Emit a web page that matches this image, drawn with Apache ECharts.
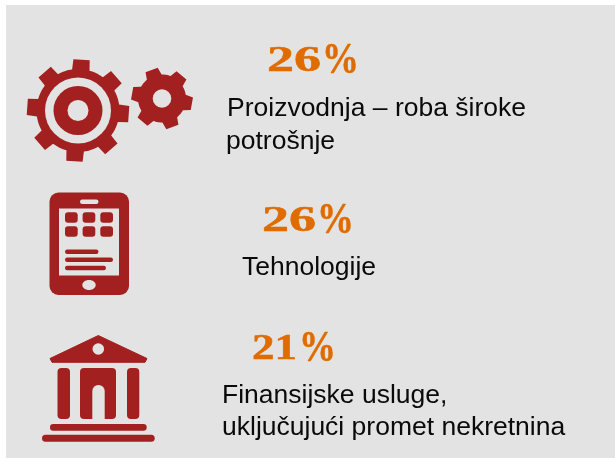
<!DOCTYPE html>
<html>
<head>
<meta charset="utf-8">
<style>
  html, body { margin: 0; padding: 0; background: #fff; }
  #chart { width: 615px; height: 458px; }
</style>
<script src="https://cdn.jsdelivr.net/npm/echarts@6/dist/echarts.min.js"></script>
</head>
<body>
<div id="chart"></div>
<script>
// udjeli po sektorima
const shares = [26, 26, 21];
const labels = [
  ['Proizvodnja – roba široke', 'potrošnje'],
  ['Tehnologije'],
  ['Finansijske usluge,', 'uključujući promet nekretnina']
];

const RED = '#a32020';
const ORANGE = '#e06c00';
const BG = '#e3e3e3';

// pozicije teksta po redovima (x, donja ivica reda)
const shareAnchors = [[267, 80], [262, 240], [252, 368]];
const shareScale = [1.5, 1.5, 1.25];
const pctOffset = [55, 55, 47];
const labelAnchors = [
  [[227, 122.5], [226, 155]],
  [[242, 281.5]],
  [[222, 409], [222, 441.5]]
];

// obris zupcanika kao poligon
function gearPoints(cx, cy, body, outer, teeth, baseHalf, tipHalf, startDeg) {
  const halfIn = baseHalf / body;
  const halfOut = tipHalf / outer;
  const pt = (r, a) => [cx + r * Math.cos(a), cy + r * Math.sin(a)];
  const pts = [];
  for (let i = 0; i < teeth; i++) {
    const a = (startDeg + i * 360 / teeth) * Math.PI / 180;
    pts.push(pt(body, a - halfIn), pt(outer, a - halfOut), pt(outer, a + halfOut), pt(body, a + halfIn));
    const gapStart = a + halfIn;
    const gapEnd = a + 2 * Math.PI / teeth - halfIn;
    for (let k = 1; k < 8; k++) pts.push(pt(body, gapStart + (gapEnd - gapStart) * k / 8));
  }
  return pts;
}

const circle = (cx, cy, r, fill) => ({ type: 'circle', shape: { cx, cy, r }, style: { fill } });
const box = (x1, y1, x2, y2, r, fill) => ({
  type: 'rect',
  shape: { x: x1, y: y1, width: x2 - x1, height: y2 - y1, r },
  style: { fill }
});

function gearIcons() {
  return [
    { type: 'polygon', shape: { points: gearPoints(78, 110.5, 41.5, 51.5, 8, 8.8, 8.2, 4) }, style: { fill: RED } },
    circle(78, 110.5, 33, BG),
    circle(78, 110.5, 24.5, RED),
    circle(78, 110.5, 10.5, BG),
    { type: 'polygon', shape: { points: gearPoints(162, 98.5, 24, 31, 6, 8, 6.5, 10) }, style: { fill: RED } },
    circle(162, 98.5, 9.3, BG)
  ];
}

function tabletIcon() {
  const parts = [
    box(49.5, 192.5, 129, 295, 9, RED),
    box(59, 208.5, 119, 275.5, 0, BG),
    box(80, 199.5, 98.5, 204, 2.2, BG),
    { type: 'ellipse', shape: { cx: 89, cy: 285, rx: 6.7, ry: 5 }, style: { fill: BG } },
    box(65, 249.5, 98.5, 254, 2.2, RED),
    box(65, 257.5, 113, 262, 2.2, RED),
    box(65, 265.8, 106, 270.3, 2.2, RED)
  ];
  [65, 82.6, 100.3].forEach(x => {
    [212.3, 226.3].forEach(y => parts.push(box(x, y, x + 12.7, y + 10.4, 3, RED)));
  });
  return parts;
}

function bankIcon() {
  return [
    {
      type: 'polygon',
      shape: { points: [[98.3, 335.5], [147, 358.5], [145, 362.3], [52, 362.3], [50, 358.5]] },
      style: { fill: RED, stroke: RED, lineWidth: 1, lineJoin: 'round' }
    },
    circle(98.3, 349, 5.8, BG),
    box(57.5, 368, 70, 419, 4, RED),
    box(80, 368, 116, 419, 4, RED),
    box(92.3, 385, 104.7, 420, [6, 6, 0, 0], BG),
    box(127, 368, 139.3, 419, 4, RED),
    box(50, 424, 146.7, 430.7, 3.3, RED),
    box(42, 434.7, 154.7, 441.7, 3.5, RED)
  ];
}

function textParts() {
  const parts = [];
  shares.forEach((v, i) => {
    const [x, y] = shareAnchors[i];
    parts.push({
      type: 'text', x, y, scaleX: shareScale[i], originX: 0, originY: 0,
      style: {
        text: String(v), fill: ORANGE, stroke: ORANGE, lineWidth: 0.5,
        font: 'bold 36px "Liberation Serif"',
        align: 'left', verticalAlign: 'bottom'
      }
    });
    // znak % je u originalu visi i siri od cifara
    parts.push({
      type: 'text', x: x + pctOffset[i], y: y + 4, scaleX: 0.84, originX: 0, originY: 0,
      style: {
        text: '%', fill: ORANGE, stroke: ORANGE, lineWidth: 0.5,
        font: 'bold 44px "Liberation Serif"',
        align: 'left', verticalAlign: 'bottom'
      }
    });
  });
  labels.forEach((lines, i) => {
    lines.forEach((line, j) => {
      const [x, y] = labelAnchors[i][j];
      parts.push({
        type: 'text', x, y,
        style: {
          text: line, fill: '#0a0a0a',
          font: '26.5px "Liberation Sans"',
          align: 'left', verticalAlign: 'bottom'
        }
      });
    });
  });
  return parts;
}

const chart = echarts.init(document.getElementById('chart'));
chart.setOption({
  animation: false,
  graphic: [
    box(6, 5, 615, 458, 0, BG),
    ...gearIcons(),
    ...tabletIcon(),
    ...bankIcon(),
    ...textParts()
  ].map(el => ({ ...el, silent: true }))
});
</script>
</body>
</html>
